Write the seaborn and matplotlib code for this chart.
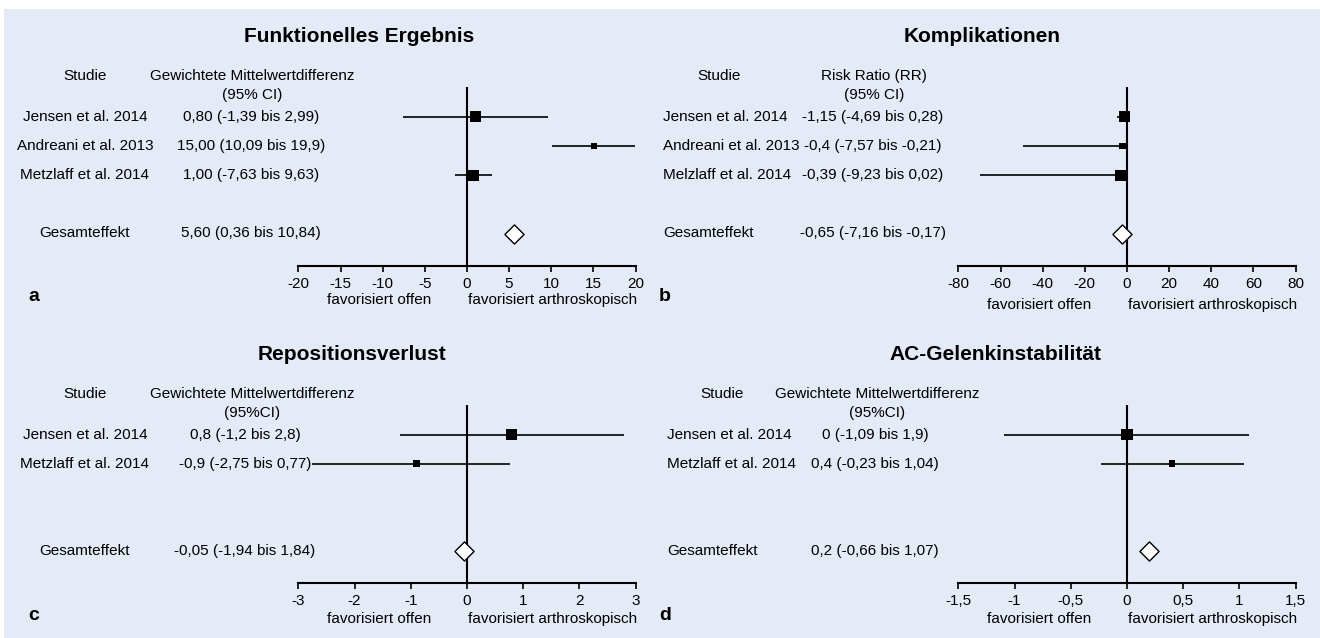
import matplotlib
matplotlib.use("Agg")
import matplotlib.pyplot as plt
import matplotlib.font_manager as fm
from matplotlib.patches import Rectangle
from matplotlib.transforms import blended_transform_factory
import seaborn as sns
import pandas as pd

# Daten
studien_a = ["Jensen et al. 2014", "Andreani et al. 2013", "Metzlaff et al. 2014"]
werte_a = ["0,80 (-1,39 bis 2,99)", "15,00 (10,09 bis 19,9)", "1,00 (-7,63 bis 9,63)"]
est_a = [1.0, 15.1, 0.8]
lo_a = [-7.63, 10.09, -1.39]
hi_a = [9.63, 19.9, 2.99]
gewicht_a = ["gross", "klein", "gross"]
gesamt_a = 5.6
gesamt_text_a = "5,60 (0,36 bis 10,84)"
ticks_a = [-20, -15, -10, -5, 0, 5, 10, 15, 20]
ticklabels_a = ["-20", "-15", "-10", "-5", "0", "5", "10", "15", "20"]

studien_b = ["Jensen et al. 2014", "Andreani et al. 2013", "Melzlaff et al. 2014"]
werte_b = ["-1,15 (-4,69 bis 0,28)", "-0,4 (-7,57 bis -0,21)", "-0,39 (-9,23 bis 0,02)"]
est_b = [-1.15, -2.2, -2.8]
lo_b = [-4.69, -49.5, -69.9]
hi_b = [0.28, -0.21, 0.02]
gewicht_b = ["gross", "klein", "gross"]
gesamt_b = -2.4
gesamt_text_b = "-0,65 (-7,16 bis -0,17)"
ticks_b = [-80, -60, -40, -20, 0, 20, 40, 60, 80]
ticklabels_b = ["-80", "-60", "-40", "-20", "0", "20", "40", "60", "80"]

studien_c = ["Jensen et al. 2014", "Metzlaff et al. 2014"]
werte_c = ["0,8 (-1,2 bis 2,8)", "-0,9 (-2,75 bis 0,77)"]
est_c = [0.8, -0.9]
lo_c = [-1.2, -2.75]
hi_c = [2.8, 0.77]
gewicht_c = ["gross", "klein"]
gesamt_c = -0.05
gesamt_text_c = "-0,05 (-1,94 bis 1,84)"
ticks_c = [-3, -2, -1, 0, 1, 2, 3]
ticklabels_c = ["-3", "-2", "-1", "0", "1", "2", "3"]

studien_d = ["Jensen et al. 2014", "Metzlaff et al. 2014"]
werte_d = ["0 (-1,09 bis 1,9)", "0,4 (-0,23 bis 1,04)"]
est_d = [0.0, 0.4]
lo_d = [-1.09, -0.23]
hi_d = [1.09, 1.04]
gewicht_d = ["gross", "klein"]
gesamt_d = 0.2
gesamt_text_d = "0,2 (-0,66 bis 1,07)"
ticks_d = [-1.5, -1, -0.5, 0, 0.5, 1, 1.5]
ticklabels_d = ["-1,5", "-1", "-0,5", "0", "0,5", "1", "1,5"]

titel = ["Funktionelles Ergebnis", "Komplikationen", "Repositionsverlust", "AC-Gelenkinstabilität"]
kopf1 = ["Gewichtete Mittelwertdifferenz", "Risk Ratio (RR)",
         "Gewichtete Mittelwertdifferenz", "Gewichtete Mittelwertdifferenz"]
kopf2 = ["(95% CI)", "(95% CI)", "(95%CI)", "(95%CI)"]
buchstaben = ["a", "b", "c", "d"]

sns.set_theme(style="white")
names = {f.name for f in fm.fontManager.ttflist}
if "Liberation Sans Narrow" in names:
    BODY, BODY_SIZE = "Liberation Sans Narrow", 13
else:
    BODY, BODY_SIZE = "Liberation Sans", 11
plt.rcParams["font.family"] = [BODY, "DejaVu Sans"]
BOLD = "Liberation Sans"

W, H = 1320, 638
fig = plt.figure(figsize=(W / 100, H / 100), dpi=100, facecolor="white")
fig.add_artist(Rectangle((4 / W, 0), 1 - 4 / W, (H - 9) / H, transform=fig.transFigure,
                         facecolor="#e4eaf6", edgecolor="none", zorder=-10))


def fx(px):
    return px / W


def fy(py):
    return 1 - py / H


panels = [
    dict(studien=studien_a, werte=werte_a, est=est_a, lo=lo_a, hi=hi_a, gew=gewicht_a,
         gesamt=gesamt_a, gtext=gesamt_text_a, ticks=ticks_a, tl=ticklabels_a),
    dict(studien=studien_b, werte=werte_b, est=est_b, lo=lo_b, hi=hi_b, gew=gewicht_b,
         gesamt=gesamt_b, gtext=gesamt_text_b, ticks=ticks_b, tl=ticklabels_b),
    dict(studien=studien_c, werte=werte_c, est=est_c, lo=lo_c, hi=hi_c, gew=gewicht_c,
         gesamt=gesamt_c, gtext=gesamt_text_c, ticks=ticks_c, tl=ticklabels_c),
    dict(studien=studien_d, werte=werte_d, est=est_d, lo=lo_d, hi=hi_d, gew=gewicht_d,
         gesamt=gesamt_d, gtext=gesamt_text_d, ticks=ticks_d, tl=ticklabels_d),
]

# Layout in Pixeln
layout = [
    dict(ax_left=298.4, ax_top=87.3, ax_bot=265.7, title_x=359, title_y=37, name_x=85, name_ha="center",
         studie_x=85, kopf_x=252, wert_x=251, letter_x=34, letter_y=297, lab_y=300),
    dict(ax_left=958.4, ax_top=87.3, ax_bot=265.7, title_x=982, title_y=37, name_x=663, name_ha="left",
         studie_x=719, kopf_x=874, wert_x=873, letter_x=665, letter_y=297, lab_y=305),
    dict(ax_left=298.4, ax_top=405.3, ax_bot=583, title_x=352, title_y=355, name_x=85, name_ha="center",
         studie_x=85, kopf_x=252, wert_x=245, letter_x=34, letter_y=616, lab_y=619),
    dict(ax_left=958.4, ax_top=405.3, ax_bot=583, title_x=995, title_y=355, name_x=667, name_ha="left",
         studie_x=722, kopf_x=877, wert_x=875, letter_x=665, letter_y=616, lab_y=619),
]
AX_W = 337.1
GESAMT_ROW = 4

for i, (p, L) in enumerate(zip(panels, layout)):
    ax = fig.add_axes([fx(L["ax_left"]), fy(L["ax_bot"]), AX_W / W, (L["ax_bot"] - L["ax_top"]) / H])
    ax.set_facecolor("none")
    df = pd.DataFrame({"studie": p["studien"], "est": p["est"], "lo": p["lo"],
                       "hi": p["hi"], "gewicht": p["gew"]})
    df["row"] = range(len(df))

    ax.axvline(0, color="black", lw=1.5, zorder=1)
    ax.hlines(df["row"], df["lo"], df["hi"], color="black", lw=1.2, zorder=2)
    sns.scatterplot(data=df, x="est", y="row", size="gewicht", sizes={"gross": 64, "klein": 22},
                    marker="s", color="black", linewidth=0, legend=False, ax=ax, zorder=3)
    sns.scatterplot(x=[p["gesamt"]], y=[GESAMT_ROW], marker="D", s=95, color="white",
                    edgecolor="black", linewidth=1, ax=ax, zorder=4)

    ax.set_xlim(p["ticks"][0], p["ticks"][-1])
    ax.set_ylim(5.08, -1.0)
    ax.set_xticks(p["ticks"])
    ax.set_xticklabels(p["tl"])
    ax.set_yticks([])
    ax.set_xlabel("")
    ax.set_ylabel("")
    sns.despine(ax=ax, left=True)
    ax.spines["bottom"].set_color("black")
    ax.spines["bottom"].set_linewidth(1.5)
    ax.tick_params(axis="x", bottom=True, direction="out", length=4, width=1.2, color="black",
                   pad=4, labelsize=BODY_SIZE, labelcolor="black")

    tr = blended_transform_factory(fig.transFigure, ax.transData)
    txt = dict(transform=tr, va="center", fontsize=BODY_SIZE, color="black", clip_on=False)
    ax.text(fx(L["studie_x"]), -1.4, "Studie", ha="center", **txt)
    ax.text(fx(L["kopf_x"]), -1.4, kopf1[i], ha="center", **txt)
    ax.text(fx(L["kopf_x"]), -0.75, kopf2[i], ha="center", **txt)
    for r, (name, wert) in enumerate(zip(p["studien"], p["werte"])):
        ax.text(fx(L["name_x"]), r, name, ha=L["name_ha"], **txt)
        ax.text(fx(L["wert_x"]), r, wert, ha="center", **txt)
    ax.text(fx(L["name_x"]), GESAMT_ROW - 0.03, "Gesamteffekt", ha=L["name_ha"], **txt)
    ax.text(fx(L["wert_x"]), GESAMT_ROW - 0.03, p["gtext"], ha="center", **txt)

    fig.text(fx(L["title_x"]), fy(L["title_y"]), titel[i], ha="center", va="center",
             fontsize=15, fontweight="bold", family=BOLD, color="black")
    fig.text(fx(L["letter_x"]), fy(L["letter_y"]), buchstaben[i], ha="center", va="center",
             fontsize=14, fontweight="bold", family=BOLD, color="black")
    fig.text(fx(L["ax_left"] + 0.24 * AX_W), fy(L["lab_y"]), "favorisiert offen",
             ha="center", va="center", fontsize=BODY_SIZE, color="black")
    fig.text(fx(L["ax_left"] + 0.755 * AX_W), fy(L["lab_y"]), "favorisiert arthroskopisch",
             ha="center", va="center", fontsize=BODY_SIZE, color="black")

fig.savefig("out.png", dpi=100, facecolor="white")
